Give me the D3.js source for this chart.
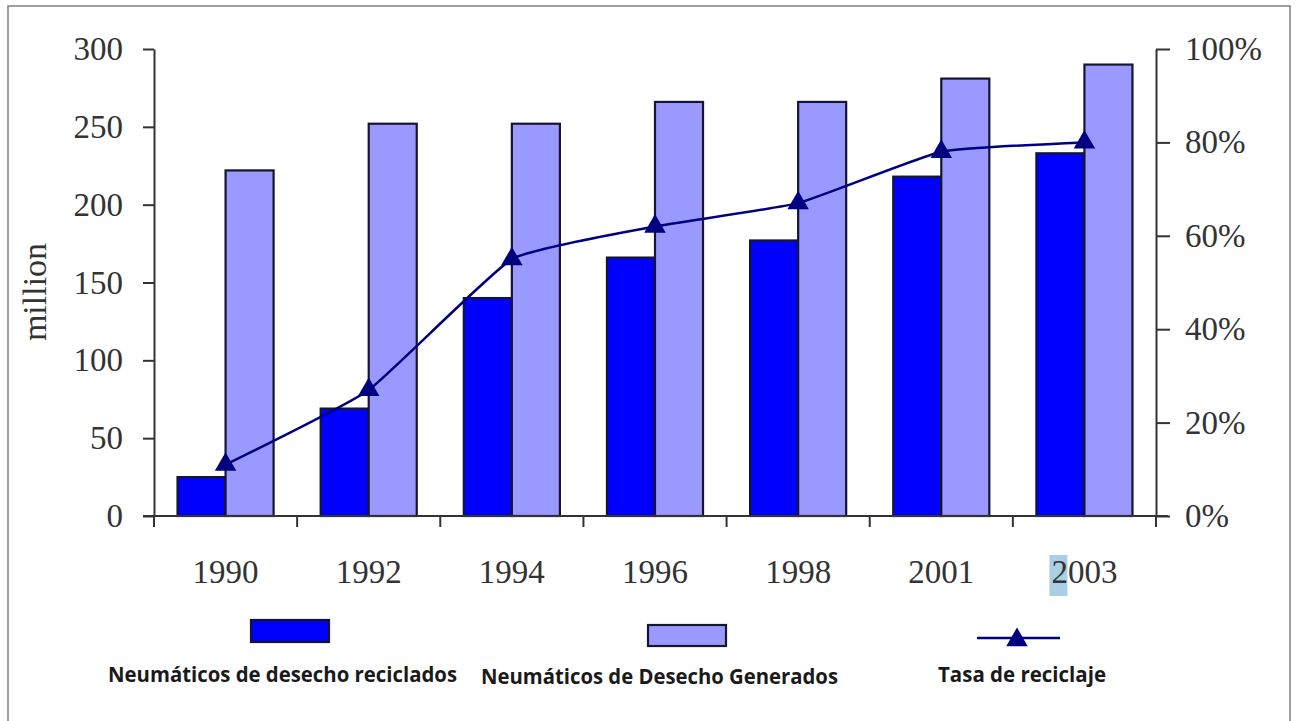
<!DOCTYPE html>
<html>
<head>
<meta charset="utf-8">
<script src="https://cdn.jsdelivr.net/npm/d3@7"></script>
<style>
  html, body { margin: 0; padding: 0; background: #fff; }
  svg { display: block; }
</style>
</head>
<body>
<svg id="chart" width="1296" height="721"></svg>
<script>
// Data
const years = ["1990", "1992", "1994", "1996", "1998", "2001", "2003"];
const recycled = [25, 69, 140, 166, 177, 218, 233];     // millions
const generated = [222, 252, 252, 266, 266, 281, 290];  // millions
const rate = [0.11, 0.27, 0.55, 0.62, 0.67, 0.78, 0.80];
const leftTicks = [0, 50, 100, 150, 200, 250, 300];
const rightTicks = [0, 0.2, 0.4, 0.6, 0.8, 1.0];
const seriesNames = ["Neumáticos de desecho reciclados", "Neumáticos de Desecho Generados", "Tasa de reciclaje"];

const svg = d3.select("#chart");
const axisColor = "#333";
const serif = "'Liberation Serif', 'Times New Roman', serif";

// frame
svg.append("path")
  .attr("d", "M8,740 L8,6 L1290,6 L1290,740")
  .attr("fill", "none").attr("stroke", "#808080").attr("stroke-width", 1.5);

const x = d3.scaleBand().domain(years).range([154, 1156]).padding(0);
const xs = d3.scaleBand().domain(["rec", "gen"]).range([0, x.bandwidth()]).paddingInner(0).paddingOuter(0.49);
const yL = d3.scaleLinear().domain([0, 300]).range([516, 49]);
const yR = d3.scaleLinear().domain([0, 1]).range([516, 49]);

// highlight behind the first digit of the last label
svg.append("rect")
  .attr("x", x("2003") + x.bandwidth() / 2 - 35).attr("y", 555)
  .attr("width", 18).attr("height", 41).attr("fill", "#a9cfe6");

// bars
const g = svg.append("g");
years.forEach((yr, i) => {
  g.append("rect")
    .attr("x", x(yr) + xs("rec")).attr("y", yL(recycled[i]))
    .attr("width", xs.bandwidth()).attr("height", yL(0) - yL(recycled[i]))
    .attr("fill", "#0000FF").attr("stroke", "#151530").attr("stroke-width", 2.2);
  g.append("rect")
    .attr("x", x(yr) + xs("gen")).attr("y", yL(generated[i]))
    .attr("width", xs.bandwidth()).attr("height", yL(0) - yL(generated[i]))
    .attr("fill", "#9999FF").attr("stroke", "#151530").attr("stroke-width", 2.2);
});

// left axis
const ax = svg.append("g").attr("transform", "translate(154,0)")
  .call(d3.axisLeft(yL).tickValues(leftTicks).tickSize(11).tickSizeOuter(0).tickPadding(20));
ax.select(".domain").attr("stroke", axisColor).attr("stroke-width", 2);
ax.selectAll(".tick line").attr("stroke", axisColor).attr("stroke-width", 2);
ax.selectAll(".tick text").attr("font-family", serif).attr("font-size", 33).attr("fill", "#333");

// right axis
const ar = svg.append("g").attr("transform", "translate(1156,0)")
  .call(d3.axisRight(yR).tickValues(rightTicks).tickFormat(d3.format(".0%")).tickSize(14).tickSizeOuter(0).tickPadding(15));
ar.select(".domain").attr("stroke", axisColor).attr("stroke-width", 2);
ar.selectAll(".tick line").attr("stroke", axisColor).attr("stroke-width", 2);
ar.selectAll(".tick text").attr("font-family", serif).attr("font-size", 33).attr("fill", "#333");

// bottom axis: labels at band centres, ticks at band edges
const ab = svg.append("g").attr("transform", "translate(0,516)")
  .call(d3.axisBottom(x).tickSize(0).tickSizeOuter(0).tickPadding(44));
ab.select(".domain").remove();
ab.selectAll(".tick text").attr("font-family", serif).attr("font-size", 33).attr("fill", "#333");

const edges = years.map(y => x(y)).concat([x.range()[1]]);
svg.append("line").attr("x1", 143).attr("x2", 1168).attr("y1", yL(0)).attr("y2", yL(0))
  .attr("stroke", axisColor).attr("stroke-width", 2);
svg.selectAll(".edge").data(edges).enter().append("line")
  .attr("x1", d => d).attr("x2", d => d).attr("y1", yL(0)).attr("y2", yL(0) + 11)
  .attr("stroke", axisColor).attr("stroke-width", 2);

// y label
svg.append("text").attr("transform", "translate(46,292) rotate(-90)")
  .attr("text-anchor", "middle").attr("font-family", serif).attr("font-size", 34).attr("fill", "#333")
  .text("million");

// rate line
const cx = yr => x(yr) + x.bandwidth() / 2;
const line = d3.line().x((d, i) => cx(years[i])).y(d => yR(d)).curve(d3.curveCardinal.tension(0.6));
svg.append("path").datum(rate).attr("d", line)
  .attr("fill", "none").attr("stroke", "#000080").attr("stroke-width", 2.5);
const tri = d3.symbol().type(d3.symbolTriangle).size(200);
svg.selectAll(".mk").data(rate).enter().append("path")
  .attr("d", tri).attr("transform", (d, i) => `translate(${cx(years[i])},${yR(d)})`)
  .attr("fill", "#000080");

// legend
const sans = "'Open Sans', 'Noto Sans', sans-serif";
svg.append("rect").attr("x", 251).attr("y", 620).attr("width", 78).attr("height", 22)
  .attr("fill", "#0000FF").attr("stroke", "#151530").attr("stroke-width", 2.2);
svg.append("rect").attr("x", 648).attr("y", 625).attr("width", 78).attr("height", 21)
  .attr("fill", "#9999FF").attr("stroke", "#151530").attr("stroke-width", 2.2);
svg.append("line").attr("x1", 977).attr("x2", 1060).attr("y1", 638).attr("y2", 638)
  .attr("stroke", "#000080").attr("stroke-width", 2.5);
svg.append("path").attr("d", tri).attr("transform", "translate(1017,640)").attr("fill", "#000080");

const legendText = [
  { x: 108, w: 349, y: 682 },
  { x: 481, w: 357, y: 684 },
  { x: 938, w: 168, y: 682 }
];
legendText.forEach((p, i) => {
  svg.append("text").attr("x", p.x).attr("y", p.y)
    .attr("font-family", sans).attr("font-weight", "bold").attr("font-size", 21)
    .attr("fill", "#1a1a1a").attr("textLength", p.w).attr("lengthAdjust", "spacingAndGlyphs")
    .text(seriesNames[i]);
});
</script>
</body>
</html>
